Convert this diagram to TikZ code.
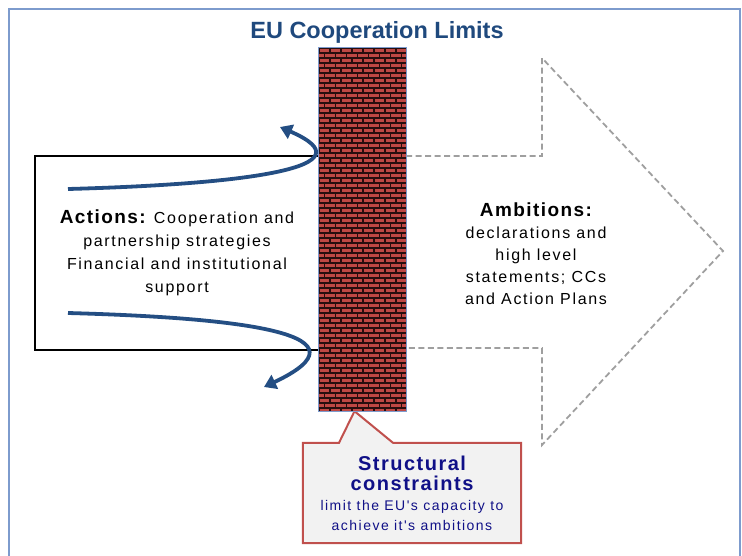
\documentclass[tikz,border=0pt]{standalone}
\usepackage{fontspec}
\setmainfont{Liberation Sans}
\newfontfamily\spacedfont[LetterSpace=10.5]{Liberation Sans}
\newfontfamily\headfont[LetterSpace=7.5]{Liberation Sans}
\usepackage{xcolor}
\usetikzlibrary{arrows.meta,backgrounds}

\definecolor{titleblue}{RGB}{31,73,125}
\definecolor{curveblue}{RGB}{36,78,131}
\definecolor{framecol}{RGB}{125,155,205}
\definecolor{brick}{RGB}{190,72,68}
\definecolor{mortar}{RGB}{40,14,14}
\definecolor{calloutred}{RGB}{192,80,77}
\definecolor{textnavy}{RGB}{16,16,135}

\begin{document}
\begin{tikzpicture}[x=1pt,y=-1pt,
		bend arrow/.style={draw=curveblue,line width=3.8pt,-{Triangle[length=12pt,width=15pt]}},
		dash line/.style={draw=gray!75,dash pattern=on 6pt off 3.5pt,line width=1.8pt,line join=miter},
		body/.style={font=\spacedfont\fontsize{16}{23}\selectfont,align=center,inner sep=0pt}]
		\useasboundingbox (0,0) rectangle (742,555);
		\clip (0,0) rectangle (742,555);
		
		% frame and title
		\draw[draw=framecol,line width=1.5pt] (9,9) rectangle (740,570);
		\node[font=\fontsize{23.5}{28}\selectfont\bfseries,text=titleblue] (title) at (377,32) {EU Cooperation Limits};
		
		% actions box
		\node[draw,line width=1.5pt,minimum width=284pt,minimum height=194pt,body] (actions) at (177,253)
		{{\headfont\fontsize{19}{23}\selectfont\bfseries Actions:} Cooperation and\\partnership strategies\\Financial and institutional\\support};
		
		% ambitions arrow
		\draw[dash line] (406,156) -- (542,156) -- (542,58) -- (723,251) -- (542,445) -- (542,348) -- (406,348);
		\node[body,font=\spacedfont\fontsize{16}{22}\selectfont] (ambitions) at (536,254)
		{{\headfont\fontsize{19}{23}\selectfont\bfseries Ambitions:}\\declarations and\\high level\\statements; CCs\\and Action Plans};
		
		% bent arrows
		\coordinate (up start) at (68,189);
		\coordinate (up end) at (280,127);
		\coordinate (down start) at (68,313);
		\coordinate (down end) at (264,387);
		\draw[bend arrow] (up start) .. controls (250,184) and (372,167) .. (up end);
		\draw[bend arrow] (down start) .. controls (250,318) and (374,335) .. (down end);
		
		% brick wall
		\node[minimum width=87pt,minimum height=363pt,inner sep=0pt] (wall) at (362.5,229.5) {};
		\begin{scope}
			\clip (wall.south west) rectangle (wall.north east);
			\fill[brick] (wall.south west) rectangle (wall.north east);
			\foreach \r in {0,...,72}{
				\draw[mortar,line width=1.1pt] (319,48+5*\r) -- (406,48+5*\r);
				\pgfmathsetmacro\off{mod(\r,2)*5.5}
				\foreach \k in {0,...,8}
				\draw[mortar,line width=1.4pt] (319+\off+11*\k,48+5*\r) -- ++(0,5);
			}
		\end{scope}
		\draw[framecol,line width=1.2pt] (wall.south west) rectangle (wall.north east);
		
		% callout
		\node[minimum width=218pt,minimum height=100pt,inner sep=0pt,
		align=center,text=textnavy,font=\spacedfont\fontsize{14}{20}\selectfont] (constraints) at (412,493)
		{{\headfont\fontsize{20}{24}\selectfont\bfseries Structural}\\{\headfont\fontsize{20}{24}\selectfont\bfseries constraints}\\limit the EU's capacity to\\achieve it's ambitions};
		\begin{pgfonlayer}{background}
			\draw[calloutred,line width=2pt,fill=gray!10,line join=miter]
			(constraints.north west) -- ([xshift=-73pt]constraints.north) -- ([xshift=-8pt]wall.south)
			-- ([xshift=-19pt]constraints.north) -- (constraints.north east)
			-- (constraints.south east) -- (constraints.south west) -- cycle;
		\end{pgfonlayer}
	\end{tikzpicture}
\end{document}
